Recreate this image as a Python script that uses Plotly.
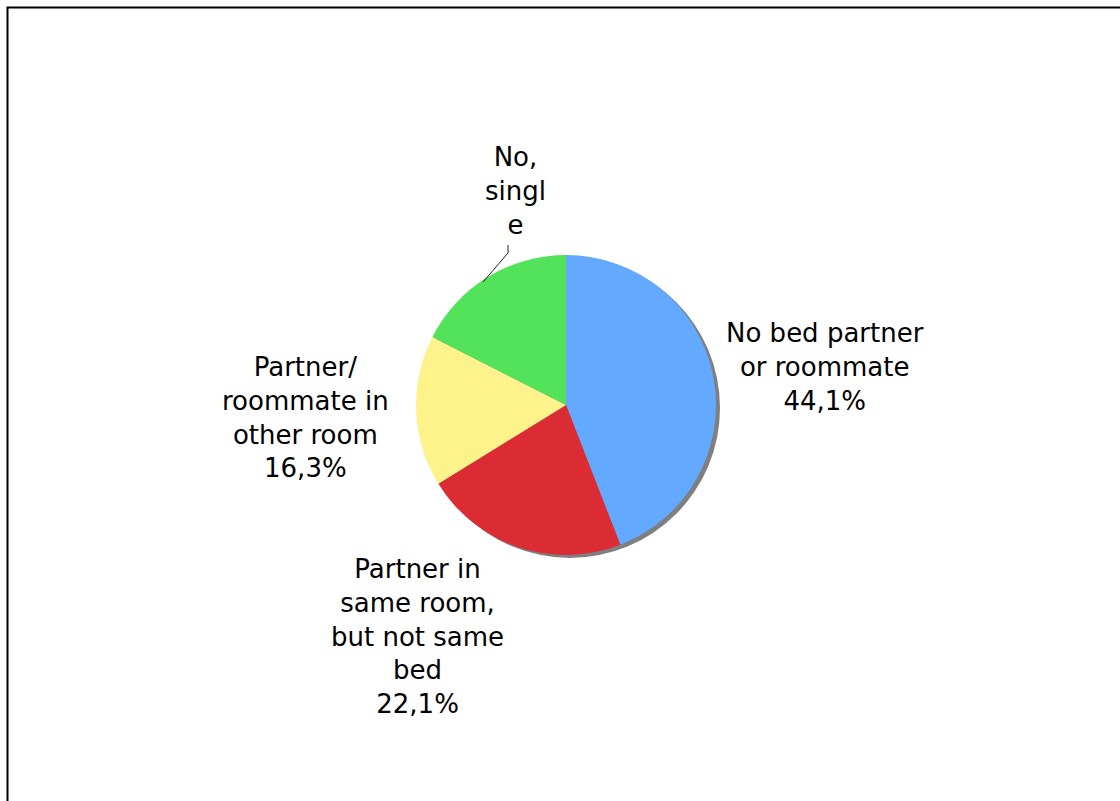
import plotly.graph_objects as go

# Sleeping arrangement shares (%)
categories = ["No bed partner or roommate", "Partner in same room, but not same bed",
              "Partner/ roommate in other room", "No, single"]
values = [44.1, 22.1, 16.3, 17.5]
# Wrapped label text as printed beside each slice
label_lines = ["No bed partner<br>or roommate",
               "Partner in<br>same room,<br>but not same<br>bed",
               "Partner/<br>roommate in<br>other room",
               "No,<br>singl<br>e"]
show_pct = [True, True, True, False]
colors = ["#63A9FF", "#DC2C33", "#FEF28B", "#52E35A"]

W, H = 1120, 801
cx, cy, r = 566, 405, 150


def px(x):
    return x / W


def py(y):
    return 1 - y / H


fig = go.Figure()

# drop shadow behind the pie
sx, sy = 4, 3
fig.add_trace(go.Pie(
    values=[sum(values)], marker=dict(colors=["#7f7f7f"], line=dict(width=0)),
    textinfo="none", hoverinfo="skip", sort=False, showlegend=False,
    domain=dict(x=[px(cx + sx - r), px(cx + sx + r)], y=[py(cy + sy + r), py(cy + sy - r)]),
))

fig.add_trace(go.Pie(
    labels=categories, values=values, sort=False, direction="clockwise", rotation=0,
    marker=dict(colors=colors, line=dict(width=0)),
    textinfo="none", hoverinfo="label+percent", showlegend=False,
    domain=dict(x=[px(cx - r), px(cx + r)], y=[py(cy + r), py(cy - r)]),
))

# label anchor points (pixel centres of each text block)
label_pos = [(825, 367), (417, 636), (306, 417), (515, 191)]
for txt, v, show, (lx, ly) in zip(label_lines, values, show_pct, label_pos):
    text = txt + ("<br>" + f"{v:.1f}".replace(".", ",") + "%" if show else "")
    fig.add_annotation(
        x=px(lx), y=py(ly), xref="paper", yref="paper", text=text, showarrow=False,
        xanchor="center", yanchor="middle", align="center",
        font=dict(family="DejaVu Sans, Verdana, sans-serif", size=26, color="#000000"),
    )

# leader line for the small top label
fig.add_shape(
    type="path", xref="paper", yref="paper",
    path=f"M {px(508)} {py(245)} L {px(508)} {py(253)} L {px(483)} {py(282)}",
    line=dict(color="#222222", width=1),
)

# chart frame
fig.add_shape(
    type="rect", xref="paper", yref="paper",
    x0=px(7.5), y0=py(812), x1=px(1132), y1=py(7.5),
    line=dict(color="#000000", width=2), fillcolor="rgba(0,0,0,0)",
)

fig.update_layout(
    width=W, height=H, margin=dict(l=0, r=0, t=0, b=0),
    paper_bgcolor="#ffffff", plot_bgcolor="#ffffff",
)

fig.write_html("out.html")
